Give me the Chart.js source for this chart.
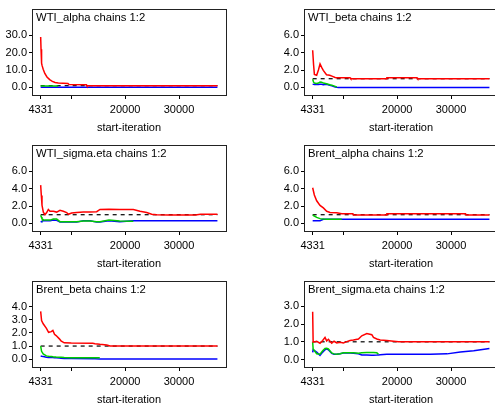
<!DOCTYPE html>
<html><head><meta charset="utf-8">
<script src="https://cdn.jsdelivr.net/npm/chart.js@4.4.1/dist/chart.umd.min.js"></script>
<style>
html,body{margin:0;padding:0;background:#fff;width:495px;height:404px;overflow:hidden;}
#wrap{position:relative;width:544px;height:408px;}
.p{position:absolute;width:272px;height:136px;}
canvas{display:block;}
</style></head><body><div id="wrap"></div>
<script>
// ---- axis ticks ----
const xTickValues = [4331, 10000, 20000, 30000];
const xTickLabels = ['4331', '', '20000', '30000'];
const refIter = [4331, 37131];
const refLevel = [1.0, 1.0];

// ---- WTI_alpha ----
const wtiAlphaIter  = [4331, 4400, 4500, 4600, 4800, 5100, 5500, 6000, 6500, 7000, 7600, 8500, 9400, 9600, 12800, 12900, 37131];
const wtiAlphaRed   = [29.0, 22.0, 14.0, 12.5, 10.5, 8.0, 6.0, 4.5, 3.5, 2.8, 2.5, 2.4, 2.2, 1.7, 1.6, 1.0, 1.0];
const wtiAlphaGreen = [0.8, 0.8, 0.8, 0.8, 0.8, 0.8, 0.8, 0.8, 0.8, 0.8, 0.8, null, null, null, null, null, null];
const wtiAlphaBlue  = [0.1, 0.1, 0.1, 0.1, 0.1, 0.1, 0.1, 0.1, 0.1, 0.1, 0.1, 0.1, 0.1, 0.1, 0.1, 0.1, 0.1];

// ---- WTI_beta ----
const wtiBetaIter  = [4331, 4500, 4650, 5075, 5400, 5700, 6000, 6300, 6900, 7500, 7900, 8500, 8800, 9100, 11275, 11400, 18000, 18100, 23700, 23800, 37131];
const wtiBetaRed   = [4.27, 2.6, 1.5, 1.4, 2.0, 2.7, 2.3, 1.95, 1.45, 1.4, 1.3, 1.15, 1.12, 1.1, 1.1, 1.0, 1.0, 1.1, 1.1, 1.0, 1.0];
const wtiBetaGreen = [0.94, 0.6, 0.5, 0.45, 0.5, 0.62, 0.6, 0.5, 0.42, 0.3, 0.26, 0.12, 0.05, null, null, null, null, null, null, null, null];
const wtiBetaBlue  = [0.37, 0.35, 0.33, 0.35, 0.33, 0.36, 0.37, 0.3, 0.35, 0.25, 0.18, 0.05, 0.02, 0.0, 0.0, 0.0, 0.0, 0.0, 0.0, 0.0, 0.0];

// ---- WTI_sigma.eta ----
const wtiSigmaIter  = [4331, 4455, 4578, 4826, 5135, 5444, 5754, 6063, 6681, 7300, 7918, 8537, 9155, 9465, 10083, 11011, 12248, 13500, 14722, 15341, 17000, 19000, 21526, 22768, 24000, 24927, 25850, 28000, 31000, 33000, 34000, 37131];
const wtiSigmaRed   = [4.4, 3.2, 2.1, 1.3, 1.0, 1.25, 1.6, 1.4, 1.4, 1.3, 1.5, 1.4, 1.25, 1.05, 1.2, 1.25, 1.3, 1.3, 1.35, 1.6, 1.62, 1.6, 1.6, 1.4, 1.25, 1.05, 1.0, 0.97, 0.97, 0.97, 1.05, 1.05];
const wtiSigmaGreen = [0.94, 0.75, 0.55, 0.42, 0.38, 0.38, 0.38, 0.38, 0.5, 0.5, 0.2, 0.18, 0.18, 0.18, 0.18, 0.2, 0.28, 0.28, 0.2, 0.2, 0.4, 0.28, 0.26, null, null, null, null, null, null, null, null, null];
const wtiSigmaBlue  = [0.15, 0.2, 0.25, 0.3, 0.3, 0.3, 0.3, 0.3, 0.4, 0.35, 0.15, 0.15, 0.15, 0.15, 0.15, 0.15, 0.3, 0.3, 0.15, 0.15, 0.3, 0.2, 0.3, 0.3, 0.3, 0.3, 0.3, 0.3, 0.3, 0.3, 0.3, 0.3];

// ---- Brent_alpha ----
const brentAlphaIter  = [4331, 4641, 5075, 5695, 6315, 6935, 7555, 8795, 9725, 11800, 11900, 18000, 18100, 32700, 32800, 37131];
const brentAlphaRed   = [4.1, 3.26, 2.6, 2.07, 1.78, 1.4, 1.26, 1.22, 1.1, 1.1, 0.97, 0.97, 1.1, 1.1, 0.97, 0.97];
const brentAlphaGreen = [0.96, 0.85, 0.7, 0.55, 0.5, 0.48, 0.48, 0.48, 0.48, null, null, null, null, null, null, null];
const brentAlphaBlue  = [0.3, 0.3, 0.3, 0.32, 0.48, 0.48, 0.48, 0.48, 0.48, 0.48, 0.48, 0.48, 0.48, 0.48, 0.48, 0.48];

// ---- Brent_beta ----
const brentBetaIter  = [4331, 4500, 4800, 5400, 5800, 6300, 6600, 6900, 7200, 7800, 8100, 8700, 10000, 14000, 14400, 15300, 16600, 17200, 37131];
const brentBetaRed   = [3.65, 2.95, 2.7, 2.35, 2.05, 2.1, 2.2, 1.9, 1.8, 1.55, 1.4, 1.25, 1.23, 1.22, 1.18, 1.13, 1.08, 1.0, 1.0];
const brentBetaGreen = [1.0, 0.6, 0.4, 0.25, 0.22, 0.2, 0.18, 0.17, 0.16, 0.15, 0.14, 0.12, 0.1, 0.1, 0.1, 0.1, null, null, null];
const brentBetaBlue  = [0.25, 0.22, 0.2, 0.15, 0.13, 0.12, 0.12, 0.1, 0.1, 0.08, 0.06, 0.05, 0.04, 0.03, 0.03, 0.02, 0.02, 0.02, 0.02];

// ---- Brent_sigma.eta ----
const brentSigmaIter  = [4331, 4420, 5075, 5695, 6191, 6625, 6935, 7245, 7865, 8299, 8795, 9415, 10035, 10655, 11275, 11895, 12825, 13445, 14375, 15305, 15615, 16235, 16545, 16855, 18095, 19335, 20265, 23055, 26155, 29255, 31735, 34215, 37131];
const brentSigmaRed   = [2.69, 0.98, 1.03, 0.92, 1.07, 1.25, 1.05, 1.14, 0.92, 1.03, 0.94, 0.98, 0.94, 1.01, 1.07, 1.1, 1.16, 1.34, 1.47, 1.4, 1.25, 1.16, 1.13, 1.1, 1.07, 1.03, 1.0, 1.0, 1.0, 1.0, 1.0, 1.0, 1.0];
const brentSigmaGreen = [0.98, 0.6, 0.33, 0.3, 0.5, 0.62, 0.64, 0.6, 0.37, 0.32, 0.3, 0.33, 0.38, 0.39, 0.39, 0.38, 0.36, 0.38, 0.4, 0.4, 0.4, 0.38, 0.3, null, null, null, null, null, null, null, null, null, null];
const brentSigmaBlue  = [0.4, 0.55, 0.42, 0.24, 0.42, 0.55, 0.6, 0.55, 0.35, 0.3, 0.3, 0.33, 0.37, 0.38, 0.37, 0.36, 0.33, 0.26, 0.25, 0.24, 0.24, 0.25, 0.26, 0.27, 0.3, 0.3, 0.3, 0.3, 0.3, 0.32, 0.42, 0.5, 0.62];

const panels = [
  {title:'WTI_alpha chains 1:2', iter:wtiAlphaIter, red:wtiAlphaRed, green:wtiAlphaGreen, blue:wtiAlphaBlue, ymin:-4.35, ymax:45.3, yticks:[0,10,20,30]},
  {title:'WTI_beta chains 1:2', iter:wtiBetaIter, red:wtiBetaRed, green:wtiBetaGreen, blue:wtiBetaBlue, ymin:-0.87, ymax:9.05, yticks:[0,2,4,6]},
  {title:'WTI_sigma.eta chains 1:2', iter:wtiSigmaIter, red:wtiSigmaRed, green:wtiSigmaGreen, blue:wtiSigmaBlue, ymin:-0.87, ymax:9.05, yticks:[0,2,4,6]},
  {title:'Brent_alpha chains 1:2', iter:brentAlphaIter, red:brentAlphaRed, green:brentAlphaGreen, blue:brentAlphaBlue, ymin:-0.87, ymax:9.05, yticks:[0,2,4,6]},
  {title:'Brent_beta chains 1:2', iter:brentBetaIter, red:brentBetaRed, green:brentBetaGreen, blue:brentBetaBlue, ymin:-0.6, ymax:6.0, yticks:[0,1,2,3,4]},
  {title:'Brent_sigma.eta chains 1:2', iter:brentSigmaIter, red:brentSigmaRed, green:brentSigmaGreen, blue:brentSigmaBlue, ymin:-0.42, ymax:4.45, yticks:[0,1,2,3]}
];

const FONT = '"Liberation Sans", Arial, sans-serif';

const boxPlugin = {
  id: 'boxTitle',
  afterDraw(chart, args, opts) {
    const {ctx, chartArea: a} = chart;
    ctx.save();
    ctx.strokeStyle = '#222';
    ctx.lineWidth = 1;
    ctx.strokeRect(Math.round(a.left) + 0.5, Math.round(a.top) + 0.5, Math.round(a.right - a.left), Math.round(a.bottom - a.top));
    ctx.fillStyle = '#000';
    ctx.font = '11.3px ' + FONT;
    ctx.textAlign = 'left';
    ctx.textBaseline = 'alphabetic';
    ctx.fillText(opts.text, a.left + 4, a.top + 12);
    ctx.restore();
  }
};

function pts(xs, ys) { return xs.map((x, i) => ({x: x, y: ys[i]})); }

const wrap = document.getElementById('wrap');
panels.forEach((p, i) => {
  const div = document.createElement('div');
  div.className = 'p';
  div.style.left = ((i % 2) * 272) + 'px';
  div.style.top = (Math.floor(i / 2) * 136) + 'px';
  const cv = document.createElement('canvas');
  cv.width = 272; cv.height = 136;
  cv.style.width = '272px'; cv.style.height = '136px';
  div.appendChild(cv);
  wrap.appendChild(div);
  const common = {borderWidth: 1.5, pointRadius: 0, fill: false, tension: 0, spanGaps: false};
  new Chart(cv, {
    type: 'line',
    data: {
      datasets: [
        Object.assign({data: pts(p.iter, p.red), borderColor: '#ff0000', order: 0}, common),
        Object.assign({data: pts(p.iter, p.green), borderColor: '#00cd00', order: 1}, common),
        Object.assign({data: pts(p.iter, p.blue), borderColor: '#0000ff', order: 2}, common),
        Object.assign({data: pts(refIter, refLevel), borderColor: '#000000', borderDash: [4, 4], order: 3}, common, {borderWidth: 1.2})
      ]
    },
    options: {
      responsive: false,
      animation: false,
      devicePixelRatio: 1,
      layout: {padding: {top: 7, right: 46, left: 0, bottom: 0}},
      plugins: {legend: {display: false}, tooltip: {enabled: false}, boxTitle: {text: p.title}},
      scales: {
        x: {
          type: 'linear', min: 2723, max: 38720,
          afterBuildTicks: s => { s.ticks = xTickValues.map(v => ({value: v})); },
          afterFit: s => { s.height = 41; },
          ticks: {autoSkip: false, maxRotation: 0, color: '#000', font: {family: FONT, size: 11}, padding: 4,
                  callback: (v, idx) => xTickLabels[idx]},
          grid: {display: true, drawOnChartArea: false, drawTicks: true, tickLength: 4, color: '#000', lineWidth: 1},
          border: {display: false},
          title: {display: true, text: 'start-iteration', color: '#000', font: {family: FONT, size: 11}, padding: {top: 0, bottom: 1.5}}
        },
        y: {
          min: p.ymin, max: p.ymax,
          afterBuildTicks: s => { s.ticks = p.yticks.map(v => ({value: v})); },
          afterFit: s => { s.width = 32; },
          ticks: {color: '#000', font: {family: FONT, size: 11}, padding: 2, callback: v => Number(v).toFixed(1)},
          grid: {display: true, drawOnChartArea: false, drawTicks: true, tickLength: 3, color: '#000', lineWidth: 1},
          border: {display: false}
        }
      }
    },
    plugins: [boxPlugin]
  });
});
</script>
</body></html>
